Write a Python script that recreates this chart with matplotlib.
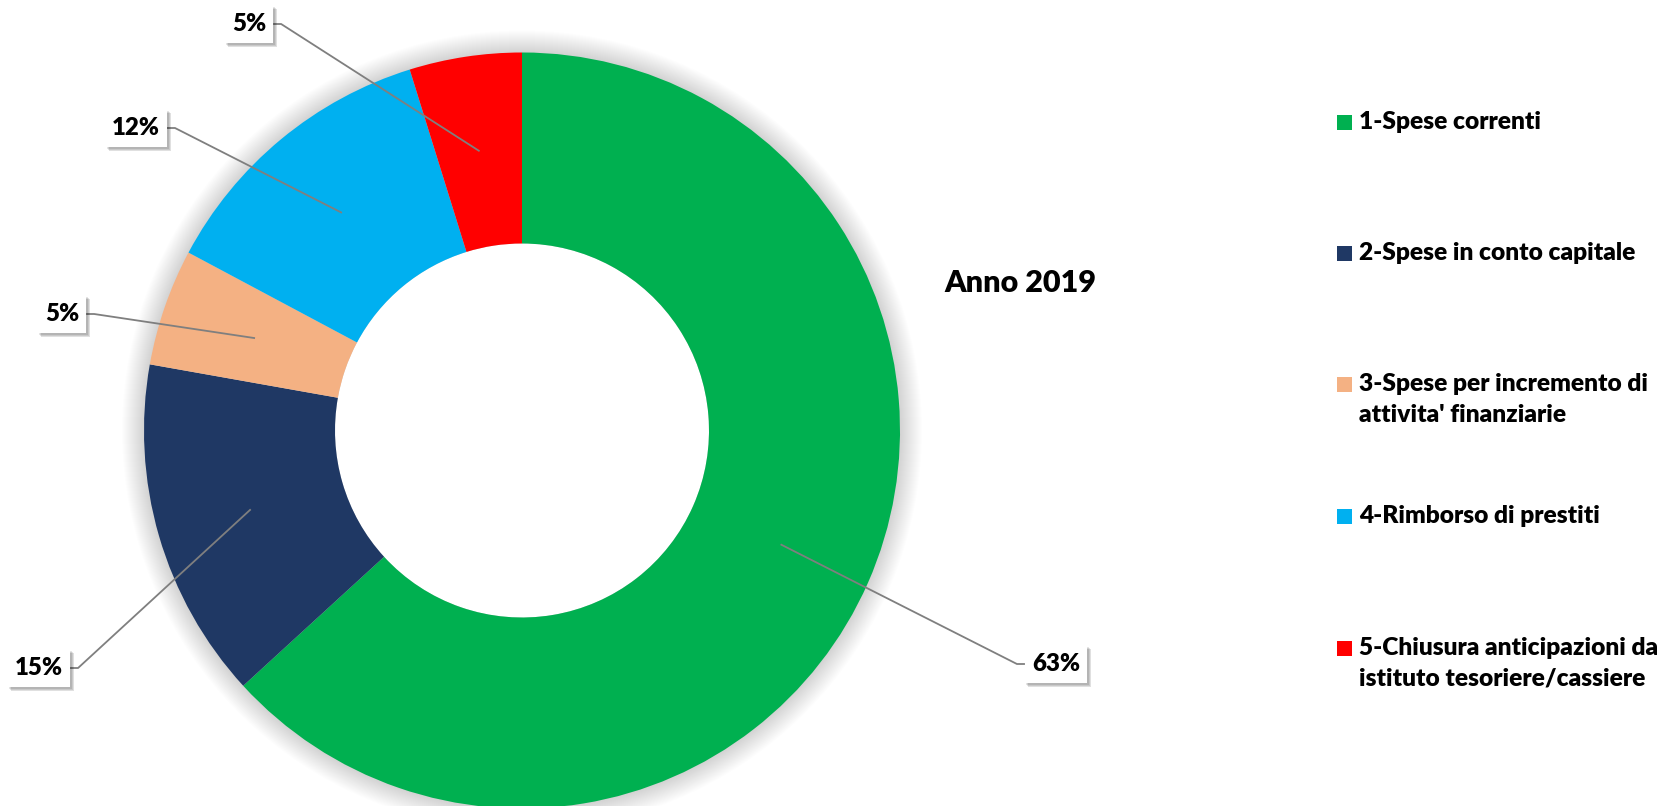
import numpy as np
import matplotlib.pyplot as plt
from matplotlib.patches import Circle, Rectangle

plt.rcParams['font.family'] = ['Lato', 'DejaVu Sans']

# dati
categorie = ["1-Spese correnti",
             "2-Spese in conto capitale",
             "3-Spese per incremento di\nattivita' finanziarie",
             "4-Rimborso di prestiti",
             "5-Chiusura anticipazioni da\nistituto tesoriere/cassiere"]
valori = [63.2, 14.6, 5.0, 12.4, 4.8]
colori = ["#00B050", "#1F3864", "#F4B183", "#00B0F0", "#FF0000"]
anno = "Anno 2019"

W, H = 1661, 806
fig = plt.figure(figsize=(W / 100, H / 100), dpi=100)
ax = fig.add_axes([0, 0, 1, 1])
renderer = fig.canvas.get_renderer()


def larghezza(t):
    return t.get_window_extent(renderer).width


def adatta(t, target):
    # porta il testo alla larghezza voluta in pixel
    for _ in range(2):
        t.set_fontsize(t.get_fontsize() * target / larghezza(t))
    return t.get_fontsize()


cx, cy = 522, H - 430.5
R = 378
r_in = 187

# ombra morbida attorno alla ciambella
for k in range(22):
    ax.add_patch(Circle((cx, cy), R + 22 - k, color='black', alpha=0.009, lw=0, zorder=0))

wedges, _ = ax.pie(valori, colors=colori, startangle=90, counterclock=False,
                   radius=R, center=(cx, cy), frame=True,
                   wedgeprops=dict(width=R - r_in, linewidth=0))
ax.add_patch(Circle((cx, cy), r_in, color='white', lw=0, zorder=0.5))
ax.set_xlim(0, W)
ax.set_ylim(0, H)
ax.set_aspect('equal')
ax.axis('off')

# etichette percentuali (centro del riquadro, pixel dall'alto)
pos_etichette = [(1056, 664), (39, 668), (62, 314), (136, 128), (249, 24)]

prova = ax.text(0, 0, "12%", fontsize=15, fontweight='heavy')
fs_lab = adatta(prova, 48)
prova.remove()

rm = (R + r_in) / 2
for w, v, (tx, ty) in zip(wedges, valori, pos_etichette):
    ang = np.deg2rad((w.theta1 + w.theta2) / 2)
    px = cx + rm * np.cos(ang)
    py = cy + rm * np.sin(ang)
    ty = H - ty
    t = ax.text(tx, ty, f"{v:.0f}%", ha='center', va='center', fontsize=fs_lab,
                fontweight='heavy', color='black', zorder=6)
    bw = larghezza(t) + 14
    bh = 38
    for k, a in enumerate([0.10, 0.10, 0.12]):
        off = 1.5 + k
        ax.add_patch(Rectangle((tx - bw / 2 + off, ty - bh / 2 - off), bw, bh,
                               color='black', alpha=a, lw=0, zorder=4))
    ax.add_patch(Rectangle((tx - bw / 2, ty - bh / 2), bw, bh, color='white', lw=0, zorder=5))
    if tx < px:
        e = tx + bw / 2
        k2 = e + 8
    else:
        e = tx - bw / 2
        k2 = e - 8
    ax.plot([e, k2, px], [ty, ty, py], color='#7F7F7F', lw=1.3, zorder=3,
            solid_capstyle='butt')

t_anno = ax.text(1020, H - 283, anno, ha='center', va='center', fontsize=20, fontweight='heavy')
adatta(t_anno, 152)

# legenda
leg_y = [122, 253, 384, 516, 648]
prova = ax.text(0, 0, categorie[0], fontsize=15, fontweight='heavy')
fs_leg = adatta(prova, 182)
h1 = prova.get_window_extent(renderer).height
prova.set_text("a\nb")
prova.set_linespacing(1.2)
h2 = prova.get_window_extent(renderer).height
ls = 1.2 * 31 / (h2 - h1)
prova.remove()

for c, lab, y in zip(colori, categorie, leg_y):
    ax.add_patch(Rectangle((1337, H - y - 7.5), 15, 15, color=c, lw=0))
    n = lab.count("\n")
    ax.text(1359, H - y - n * 31 / 2, lab, ha='left', va='center', fontsize=fs_leg,
            fontweight='heavy', linespacing=ls)

fig.savefig("out.png", dpi=100, facecolor='white')
